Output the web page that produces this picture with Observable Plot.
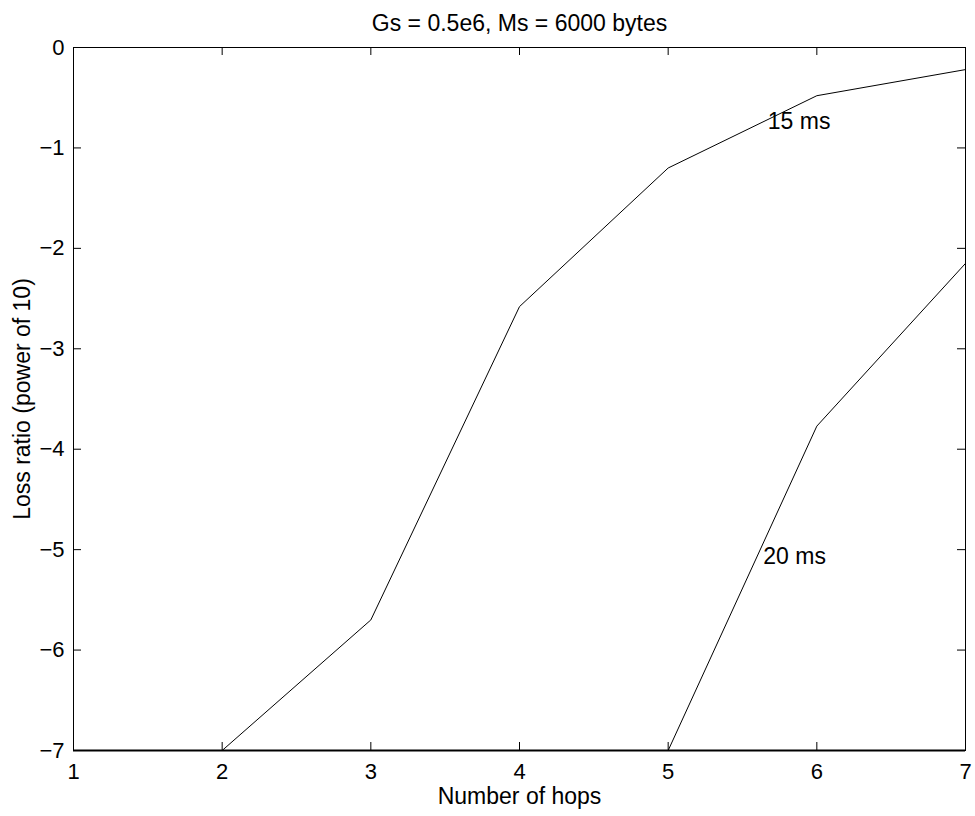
<!DOCTYPE html>
<html><head><meta charset="utf-8">
<script src="https://cdn.jsdelivr.net/npm/d3@7"></script>
<script src="https://cdn.jsdelivr.net/npm/@observablehq/plot@0.6"></script>
<style>html,body{margin:0;padding:0;background:#fff;}</style>
</head><body><div id="chart"></div>
<script>
const hops = [1, 2, 3, 4, 5, 6, 7];
const loss15 = [-7, -7, -5.7, -2.58, -1.2, -0.48, -0.22];
const loss20 = [-7, -7, -7, -7, -7, -3.77, -2.15];
const seriesNames = ["15 ms", "20 ms"];
const labelX = [5.67, 5.64];
const labelY = [-0.74, -5.07];
const xTicks = [1, 2, 3, 4, 5, 6, 7];
const yTicks = [0, -1, -2, -3, -4, -5, -6, -7];
const titleText = "Gs = 0.5e6, Ms = 6000 bytes";
const xLabelText = "Number of hops";
const yLabelText = "Loss ratio (power of 10)";

const W = 975, H = 816;
const mL = 73, mR = 10, mT = 47, mB = 66;
const pw = W - mL - mR, ph = H - mT - mB;
const tick = 8;
const fmt = d => d < 0 ? "\u2212" + (-d) : String(d);

const rows = [];
hops.forEach((h, i) => rows.push({series: seriesNames[0], x: h, y: loss15[i]}));
hops.forEach((h, i) => rows.push({series: seriesNames[1], x: h, y: loss20[i]}));
const labels = seriesNames.map((s, i) => ({text: s, x: labelX[i], y: labelY[i]}));

const chart = Plot.plot({
  width: W, height: H,
  marginLeft: mL, marginRight: mR, marginTop: mT, marginBottom: mB,
  style: {fontFamily: "'Liberation Sans', Arial, Helvetica, sans-serif", fontSize: "22px", background: "white", color: "black", overflow: "visible"},
  x: {domain: [1, 7]},
  y: {domain: [-7, 0]},
  marks: [
    Plot.axisX({ticks: xTicks, tickSize: 0, tickPadding: 13, label: null, tickFormat: fmt, fontSize: 22}),
    Plot.axisY({ticks: yTicks, tickSize: 0, tickPadding: 9, label: null, tickFormat: fmt, fontSize: 22}),
    Plot.line(rows, {x: "x", y: "y", z: "series", stroke: "black", strokeWidth: 1}),
    Plot.tickY(yTicks, {y: d => d, insetRight: pw - tick, stroke: "black"}),
    Plot.tickY(yTicks, {y: d => d, insetLeft: pw - tick, stroke: "black"}),
    Plot.tickX(xTicks, {x: d => d, insetTop: ph - tick, stroke: "black"}),
    Plot.tickX(xTicks, {x: d => d, insetBottom: ph - tick, stroke: "black"}),
    Plot.frame({stroke: "black", strokeWidth: 1}),
    Plot.ruleY([-7], {stroke: "black", strokeWidth: 2}),
    Plot.text(labels, {x: "x", y: "y", text: "text", textAnchor: "start", fill: "black", fontSize: 23}),
    Plot.text([titleText], {frameAnchor: "top", lineAnchor: "top", dy: -33, fill: "black", fontSize: 23}),
    Plot.text([xLabelText], {frameAnchor: "bottom", lineAnchor: "top", dy: 37, fill: "black", fontSize: 23}),
    Plot.text([yLabelText], {frameAnchor: "left", textAnchor: "middle", lineAnchor: "top", rotate: -90, dx: -60, fill: "black", fontSize: 23})
  ]
});
document.getElementById("chart").appendChild(chart);
</script>
</body></html>
